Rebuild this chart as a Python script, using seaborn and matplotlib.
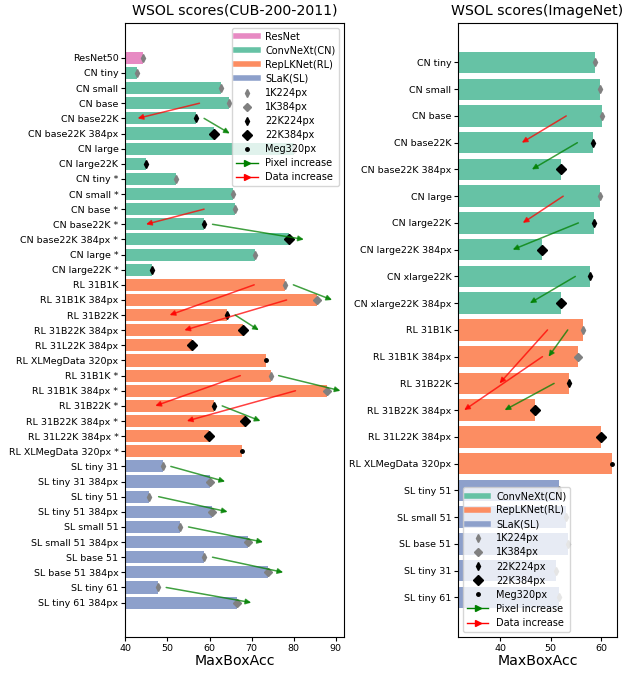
import matplotlib
matplotlib.use("Agg")
import matplotlib.pyplot as plt
from matplotlib.lines import Line2D
import seaborn as sns
import pandas as pd

# ---------------- data: CUB-200-2011 ----------------
cub_names = [
    "ResNet50", "CN tiny", "CN small", "CN base", "CN base22K", "CN base22K 384px",
    "CN large", "CN large22K", "CN tiny *", "CN small *", "CN base *", "CN base22K *",
    "CN base22K 384px *", "CN large *", "CN large22K *",
    "RL 31B1K", "RL 31B1K 384px", "RL 31B22K", "RL 31B22K 384px", "RL 31L22K 384px",
    "RL XLMegData 320px", "RL 31B1K *", "RL 31B1K 384px *", "RL 31B22K *",
    "RL 31B22K 384px *", "RL 31L22K 384px *", "RL XLMegData 320px *",
    "SL tiny 31", "SL tiny 31 384px", "SL tiny 51", "SL tiny 51 384px",
    "SL small 51", "SL small 51 384px", "SL base 51", "SL base 51 384px",
    "SL tiny 61", "SL tiny 61 384px",
]
cub_values = [
    44.2, 42.7, 62.7, 64.5, 56.8, 61.0,
    80.0, 44.9, 52.0, 65.5, 66.0, 58.7,
    78.8, 70.9, 46.4,
    77.9, 85.6, 64.1, 67.9, 55.8,
    73.5, 74.5, 87.8, 61.0,
    68.5, 59.8, 67.7,
    48.9, 60.2, 45.7, 60.6,
    52.9, 69.1, 58.6, 73.9,
    47.7, 66.4,
]
cub_family = (["ResNet"] + ["ConvNeXt(CN)"] * 14 + ["RepLKNet(RL)"] * 12 + ["SLaK(SL)"] * 10)
cub_setting = [
    "1K224px", "1K224px", "1K224px", "1K224px", "22K224px", "22K384px",
    "1K224px", "22K224px", "1K224px", "1K224px", "1K224px", "22K224px",
    "22K384px", "1K224px", "22K224px",
    "1K224px", "1K384px", "22K224px", "22K384px", "22K384px",
    "Meg320px", "1K224px", "1K384px", "22K224px",
    "22K384px", "22K384px", "Meg320px",
    "1K224px", "1K384px", "1K224px", "1K384px",
    "1K224px", "1K384px", "1K224px", "1K384px",
    "1K224px", "1K384px",
]
# arrows: (start value, start row, end value, end row, kind)
cub_arrows = [
    (57.6, 3, 42.9, 4, "data"), (58.7, 4, 64.8, 5, "pixel"),
    (58.7, 10, 44.9, 11, "data"), (60.7, 11, 82.4, 12, "pixel"),
    (79.9, 15, 89.1, 16, "pixel"), (70.6, 15, 50.5, 17, "data"),
    (78.3, 16, 54.0, 18, "data"), (66.1, 17, 71.7, 18, "pixel"),
    (76.4, 21, 91.1, 22, "pixel"), (67.3, 21, 47.1, 23, "data"),
    (80.4, 22, 54.6, 24, "data"), (63.0, 23, 72.1, 24, "pixel"),
    (50.8, 27, 63.7, 28, "pixel"), (47.9, 29, 64.3, 30, "pixel"),
    (55.0, 31, 72.7, 32, "pixel"), (60.7, 33, 77.5, 34, "pixel"),
    (49.7, 35, 69.9, 36, "pixel"),
]

# ---------------- data: ImageNet ----------------
in_names = [
    "CN tiny", "CN small", "CN base", "CN base22K", "CN base22K 384px", "CN large",
    "CN large22K", "CN large22K 384px", "CN xlarge22K", "CN xlarge22K 384px",
    "RL 31B1K", "RL 31B1K 384px", "RL 31B22K", "RL 31B22K 384px", "RL 31L22K 384px",
    "RL XLMegData 320px",
    "SL tiny 51", "SL small 51", "SL base 51", "SL tiny 31", "SL tiny 61",
]
in_values = [
    58.8, 59.7, 60.2, 58.4, 52.1, 59.7,
    58.6, 48.4, 57.8, 52.0,
    56.4, 55.5, 53.7, 46.9, 59.9,
    62.1,
    51.7, 53.1, 53.4, 51.1, 51.7,
]
in_family = ["ConvNeXt(CN)"] * 10 + ["RepLKNet(RL)"] * 6 + ["SLaK(SL)"] * 5
in_setting = [
    "1K224px", "1K224px", "1K224px", "22K224px", "22K384px", "1K224px",
    "22K224px", "22K384px", "22K224px", "22K384px",
    "1K224px", "1K384px", "22K224px", "22K384px", "22K384px",
    "Meg320px",
    "1K224px", "1K224px", "1K224px", "1K224px", "1K224px",
]
in_arrows = [
    (53.1, 2, 44.3, 3, "data"), (55.3, 3, 46.3, 4, "pixel"),
    (52.5, 5, 44.5, 6, "data"), (55.5, 6, 42.5, 7, "pixel"),
    (54.9, 8, 45.9, 9, "pixel"), (53.4, 10, 49.6, 11, "pixel"),
    (49.4, 10, 39.9, 12, "data"), (48.4, 11, 32.9, 13, "data"),
    (50.7, 12, 40.9, 13, "pixel"),
]

# ---------------- styles ----------------
set2 = sns.color_palette("Set2")
fam_colors = {"ConvNeXt(CN)": set2[0], "RepLKNet(RL)": set2[1],
              "SLaK(SL)": set2[2], "ResNet": set2[3]}
marker_style = {
    "1K224px": dict(marker="d", color="gray", ms=4),
    "1K384px": dict(marker="D", color="gray", ms=4),
    "22K224px": dict(marker="d", color="black", ms=4),
    "22K384px": dict(marker="D", color="black", ms=5),
    "Meg320px": dict(marker=".", color="black", ms=5),
}
arrow_colors = {"pixel": "green", "data": "red"}
FS_TICK = 6.8
FS_LEG = 7
FS_TITLE = 10.2


def panel(ax, names, values, family, setting, arrows, title, xlim, ylim,
          fam_order, leg_loc):
    df = pd.DataFrame({"name": names, "value": values, "family": family})
    sns.barplot(data=df, y="name", x="value", hue="family", order=names,
                palette=fam_colors, dodge=False, orient="h", legend=False,
                width=0.8, saturation=1, ax=ax)
    for key, st in marker_style.items():
        xs = [v for v, s in zip(values, setting) if s == key]
        ys = [i for i, s in enumerate(setting) if s == key]
        if xs:
            ax.plot(xs, ys, linestyle="none", zorder=4, **st)
    for x0, r0, x1, r1, kind in arrows:
        ax.annotate("", xy=(x1, r1), xytext=(x0, r0),
                    arrowprops=dict(arrowstyle="-|>", color=arrow_colors[kind],
                                    lw=1.1, alpha=0.75, mutation_scale=8,
                                    shrinkA=0, shrinkB=0), zorder=5)
    ax.set_xlim(*xlim)
    ax.set_ylim(*ylim)
    ax.set_title(title, fontsize=FS_TITLE)
    ax.set_xlabel("MaxBoxAcc", fontsize=FS_TITLE, labelpad=1)
    ax.set_ylabel("")
    ax.tick_params(axis="both", labelsize=FS_TICK, length=3, pad=2)
    handles = [Line2D([], [], color=fam_colors[f], lw=4, label=f) for f in fam_order]
    for key, st in marker_style.items():
        handles.append(Line2D([], [], linestyle="none", label=key, **st))
    handles.append(Line2D([], [], color="green", marker=">", ms=5, lw=1,
                          label="Pixel increase"))
    handles.append(Line2D([], [], color="red", marker=">", ms=5, lw=1,
                          label="Data increase"))
    ax.legend(handles=handles, loc=leg_loc, fontsize=FS_LEG, labelspacing=0.42,
              handlelength=2.2)


fig = plt.figure(figsize=(6.3, 6.73), dpi=100)
ax1 = fig.add_axes([0.199, 0.054, 0.3475, 0.912])
ax2 = fig.add_axes([0.7275, 0.054, 0.2515, 0.912])

panel(ax1, cub_names, cub_values, cub_family, cub_setting, cub_arrows,
      "WSOL scores(CUB-200-2011)", (40, 92), (38.25, -2.31),
      ["ResNet", "ConvNeXt(CN)", "RepLKNet(RL)", "SLaK(SL)"], "upper right")
ax1.set_xticks([40, 50, 60, 70, 80, 90])

panel(ax2, in_names, in_values, in_family, in_setting, in_arrows,
      "WSOL scores(ImageNet)", (31.75, 63.1), (21.47, -1.48),
      ["ConvNeXt(CN)", "RepLKNet(RL)", "SLaK(SL)"], "lower left")
ax2.set_xticks([40, 50, 60])

fig.savefig("out.png", dpi=100)
